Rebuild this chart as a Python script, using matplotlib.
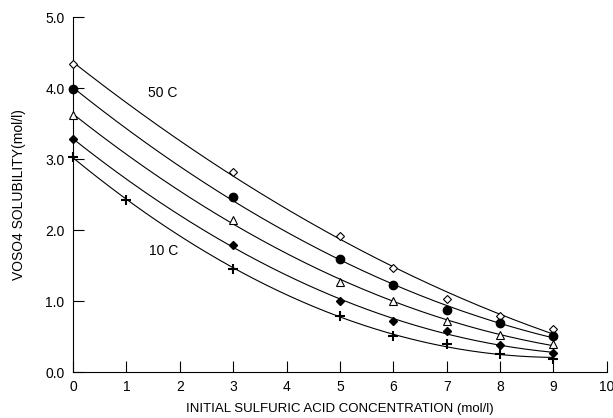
import numpy as np
import matplotlib.pyplot as plt

plt.rcParams['font.family'] = ['Liberation Sans', 'DejaVu Sans']

# VOSO4 solubility (mol/l) vs initial H2SO4 concentration (mol/l)
x_50 = [0, 3, 5, 6, 7, 8, 9]
y_50 = [4.34, 2.82, 1.91, 1.47, 1.03, 0.79, 0.60]

x_40 = [0, 3, 5, 6, 7, 8, 9]
y_40 = [3.99, 2.46, 1.59, 1.22, 0.88, 0.69, 0.51]

x_30 = [0, 3, 5, 6, 7, 8, 9]
y_30 = [3.62, 2.14, 1.27, 1.00, 0.72, 0.52, 0.39]

x_20 = [0, 3, 5, 6, 7, 8, 9]
y_20 = [3.28, 1.79, 1.00, 0.72, 0.58, 0.38, 0.27]

x_10 = [0, 1, 3, 5, 6, 7, 8, 9]
y_10 = [3.03, 2.43, 1.45, 0.79, 0.51, 0.39, 0.25, 0.19]

series = [
    (x_50, y_50, dict(marker='D', mfc='white', mec='black', ms=4.5, mew=0.8)),
    (x_40, y_40, dict(marker='o', mfc='black', mec='black', ms=6)),
    (x_30, y_30, dict(marker='^', mfc='white', mec='black', ms=5.5, mew=0.8)),
    (x_20, y_20, dict(marker='D', mfc='black', mec='black', ms=4)),
    (x_10, y_10, dict(marker='+', mec='black', ms=7, mew=1.5)),
]

fig = plt.figure(figsize=(6.13, 4.18), dpi=100)
ax = fig.add_axes([0.119, 0.110, 0.871, 0.849])

for xs, ys, style in series:
    # smooth fitted curve through each temperature's data
    coef = np.polyfit(xs, ys, 2)
    xf = np.linspace(min(xs), max(xs), 200)
    ax.plot(xf, np.polyval(coef, xf), color='black', lw=0.8)
    ax.plot(xs, ys, linestyle='none', clip_on=False, zorder=3, **style)

ax.text(1.69, 3.93, '50 C', ha='center', va='center', fontsize=10)
ax.text(1.69, 1.70, '10 C', ha='center', va='center', fontsize=10)

ax.set_xlim(0, 10)
ax.set_ylim(0, 5)
ax.set_xticks(range(0, 11))
ax.set_yticks([0, 1, 2, 3, 4, 5])
ax.set_yticklabels(['0.0', '1.0', '2.0', '3.0', '4.0', '5.0'])
ax.tick_params(direction='in', length=8, width=0.8, labelsize=10, pad=6)
for s in ['top', 'right']:
    ax.spines[s].set_visible(False)
for s in ['left', 'bottom']:
    ax.spines[s].set_linewidth(0.8)

ax.set_xlabel('INITIAL SULFURIC ACID CONCENTRATION (mol/l)', fontsize=9.5, labelpad=6)
ax.set_ylabel('VOSO4 SOLUBILITY(mol/l)', fontsize=10, labelpad=14)

fig.savefig('out.png', dpi=100)
